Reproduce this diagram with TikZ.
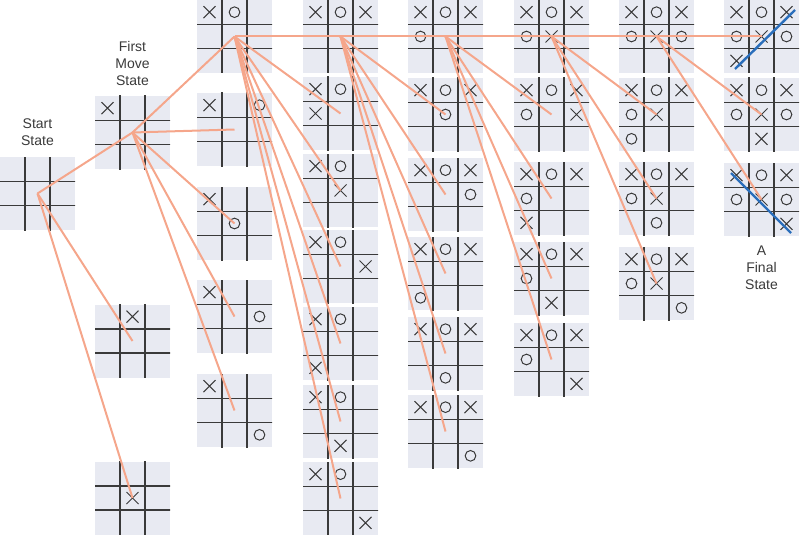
\documentclass[tikz,border=0pt]{standalone}
\usepackage{fontspec}
\setmainfont{Liberation Sans}
\usetikzlibrary{positioning}

\definecolor{boardfill}{HTML}{E8EAF2}
\definecolor{gridgray}{HTML}{3A3A3A}
\definecolor{linkorange}{HTML}{F5A68B}
\definecolor{winblue}{HTML}{2A6EBB}

% X and O marks in the cells (column/row) of a board node
\newcommand\putx[2]{\foreach \cx/\cy in {#2}{\draw[xo] ([shift={({(\cx-2)*25},{(\cy-2)*24.33})}]#1.center) +(-6,-6) -- +(6,6) +(-6,6) -- +(6,-6);}}
\newcommand\puto[2]{\foreach \cx/\cy in {#2}{\draw[xo] ([shift={({(\cx-2)*25},{(\cy-2)*24.33})}]#1.center) circle[radius=4pt];}}

\begin{document}
\begin{tikzpicture}[
    x=0.75pt, y=-0.75pt,
    board/.style={fill=boardfill, inner sep=0pt, minimum width=56.25pt, minimum height=54.75pt,
      path picture={
        \foreach \d in {-12.5,12.5}
          \draw[gridline] ([shift={(\d,-40)}]path picture bounding box.center) -- ++(0,80);
        \foreach \d in {-12.17,12.17}
          \draw[gridline] ([shift={(-40,\d)}]path picture bounding box.center) -- ++(80,0);
      }},
    gridline/.style={draw=gridgray, line width=1.1pt},
    xo/.style={draw=gridgray, line width=0.75pt},
    link/.style={draw=linkorange, line width=1.5pt},
    winline/.style={draw=winblue, line width=1.8pt},
    lbl/.style={align=center, text=gridgray, font=\fontsize{10.5}{12.75}\selectfont}
  ]
    \useasboundingbox (0,0) rectangle (800,535);

    \node[board] (s) at (37.5,193.5) {};
    \node[board] (m1) at (132.5,132.5) {};
    \node[board] (m2) at (132.5,341) {};
    \node[board] (m3) at (132.5,498) {};
    \node[lbl] (startlbl) at (37.5,132.5) {Start\\State};
    \node[lbl] (firstlbl) at (132.5,63) {First\\Move\\State};

    \node[board] (c3a) at (234.5,36.5) {};
    \node[board] (c3b) at (234.5,129.5) {};
    \node[board] (c3c) at (234.5,223.5) {};
    \node[board] (c3d) at (234.5,316.5) {};
    \node[board] (c3e) at (234.5,410.5) {};

    \node[board] (c4a) at (340.5,36.5) {};
    \node[board] (c4b) at (340.5,113.5) {};
    \node[board] (c4c) at (340.5,190.5) {};
    \node[board] (c4d) at (340.5,266.5) {};
    \node[board] (c4e) at (340.5,343.5) {};
    \node[board] (c4f) at (340.5,421.5) {};
    \node[board] (c4g) at (340.5,498.5) {};

    \node[board] (c5a) at (445.5,36.5) {};
    \node[board] (c5b) at (445.5,114.5) {};
    \node[board] (c5c) at (445.5,194.5) {};
    \node[board] (c5d) at (445.5,273.5) {};
    \node[board] (c5e) at (445.5,353.5) {};
    \node[board] (c5f) at (445.5,431.5) {};

    \node[board] (c6a) at (551.5,36.5) {};
    \node[board] (c6b) at (551.5,114.5) {};
    \node[board] (c6c) at (551.5,198.5) {};
    \node[board] (c6d) at (551.5,278.5) {};
    \node[board] (c6e) at (551.5,359.5) {};

    \node[board] (c7a) at (656.5,36.5) {};
    \node[board] (c7b) at (656.5,114.5) {};
    \node[board] (c7c) at (656.5,198.5) {};
    \node[board] (c7d) at (656.5,283.5) {};

    \node[board] (c8a) at (761.5,36.5) {};
    \node[board] (c8b) at (761.5,114.5) {};
    \node[board] (c8c) at (761.5,199.5) {};
    \node[lbl] (finallbl) at (761.5,268) {A\\Final\\State};

    \putx{m1}{1/1}
    \putx{m2}{2/1}
    \putx{m3}{2/2}
    \foreach \b in {c3a,c3b,c3c,c3d,c3e} {\putx{\b}{1/1}}
    \puto{c3a}{2/1}
    \puto{c3b}{3/1}
    \puto{c3c}{2/2}
    \puto{c3d}{3/2}
    \puto{c3e}{3/3}
    \foreach \b in {c4a,c4b,c4c,c4d,c4e,c4f,c4g} {\putx{\b}{1/1}\puto{\b}{2/1}}
    \putx{c4a}{3/1}
    \putx{c4b}{1/2}
    \putx{c4c}{2/2}
    \putx{c4d}{3/2}
    \putx{c4e}{1/3}
    \putx{c4f}{2/3}
    \putx{c4g}{3/3}
    \foreach \b in {c5a,c5b,c5c,c5d,c5e,c5f} {\putx{\b}{1/1,3/1}\puto{\b}{2/1}}
    \puto{c5a}{1/2}
    \puto{c5b}{2/2}
    \puto{c5c}{3/2}
    \puto{c5d}{1/3}
    \puto{c5e}{2/3}
    \puto{c5f}{3/3}
    \foreach \b in {c6a,c6b,c6c,c6d,c6e} {\putx{\b}{1/1,3/1}\puto{\b}{2/1,1/2}}
    \putx{c6a}{2/2}
    \putx{c6b}{3/2}
    \putx{c6c}{1/3}
    \putx{c6d}{2/3}
    \putx{c6e}{3/3}
    \foreach \b in {c7a,c7b,c7c,c7d} {\putx{\b}{1/1,3/1,2/2}\puto{\b}{2/1,1/2}}
    \puto{c7a}{3/2}
    \puto{c7b}{1/3}
    \puto{c7c}{2/3}
    \puto{c7d}{3/3}
    \foreach \b in {c8a,c8b,c8c} {\putx{\b}{1/1,3/1,2/2}\puto{\b}{2/1,1/2,3/2}}
    \putx{c8a}{1/3}
    \putx{c8b}{2/3}
    \putx{c8c}{3/3}

    \foreach \t in {m1,m2,m3} {\draw[link] (s.center) -- (\t.center);}
    \foreach \t in {c3a,c3b,c3c,c3d,c3e} {\draw[link] (m1.center) -- (\t.center);}
    \foreach \t in {c4a,c4b,c4c,c4d,c4e,c4f,c4g} {\draw[link] (c3a.center) -- (\t.center);}
    \foreach \t in {c5a,c5b,c5c,c5d,c5e,c5f} {\draw[link] (c4a.center) -- (\t.center);}
    \foreach \t in {c6a,c6b,c6c,c6d,c6e} {\draw[link] (c5a.center) -- (\t.center);}
    \foreach \t in {c7a,c7b,c7c,c7d} {\draw[link] (c6a.center) -- (\t.center);}
    \foreach \t in {c8a,c8b,c8c} {\draw[link] (c7a.center) -- (\t.center);}

    \draw[winline] ([shift={(-26.5,32.5)}]c8a.center) -- ([shift={(33.5,-26.5)}]c8a.center);
    \draw[winline] ([shift={(-30.5,-26.5)}]c8c.center) -- ([shift={(29.5,33.5)}]c8c.center);
  \end{tikzpicture}
\end{document}
